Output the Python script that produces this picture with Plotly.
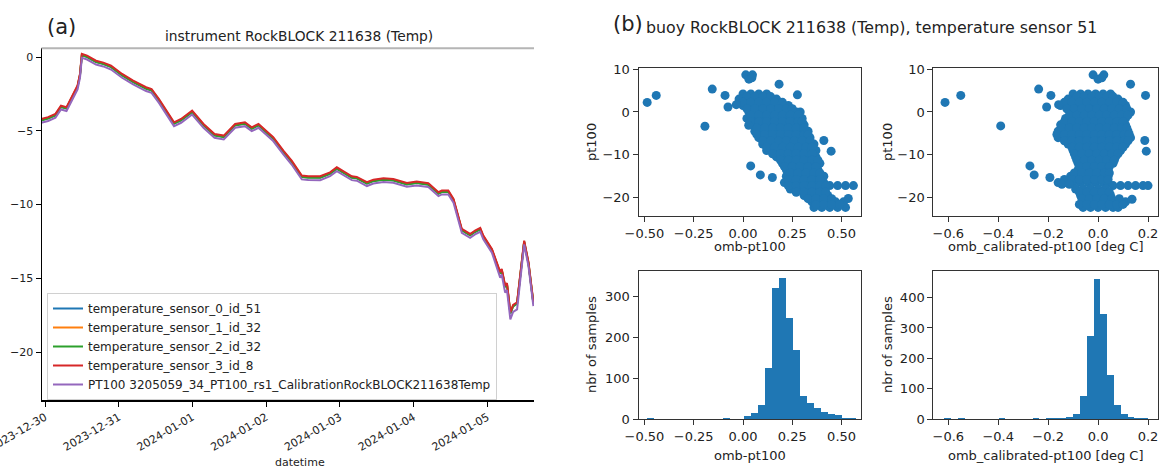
import numpy as np
import pandas as pd
import plotly.graph_objects as go

W, H = 1160, 469

# ---------------- data: panel (a) time series ----------------
start_time = "2023-12-30 00:00"
hours_since_start = [-1.2, 1.0, 3.4, 5.2, 7.0, 8.8, 10.6, 11.4, 12.0, 13.7, 16.6, 19.0, 21.5, 25.1, 28.7,
                     32.9, 34.7, 37.1, 42.0, 44.3, 47.9, 51.6, 55.2, 58.2, 61.9, 65.1, 67.3, 69.5, 74.3,
                     77.6, 80.3, 83.6, 85.7, 89.6, 92.8, 95.0, 97.7, 99.9, 101.5, 104.8, 106.9, 110.2,
                     113.4, 117.8, 121.0, 124.8, 128.1, 129.2, 131.3, 133.0, 135.7, 138.4, 140.0, 141.7,
                     142.7, 145.5, 148.2, 148.7, 149.8, 150.4, 151.5, 152.4, 153.7, 154.7, 156.0, 157.4, 159.0]
sensor_0 = [-4.27, -4.15, -3.93, -3.37, -3.47, -2.69, -2.0, -1.2, 0.14, 0.02, -0.32, -0.45, -0.66, -1.22, -1.67,
            -2.12, -2.24, -2.92, -4.5, -4.27, -3.71, -4.61, -5.29, -5.4, -4.61, -4.5, -4.84, -4.61, -5.51,
            -6.42, -7.1, -8.11, -8.15, -8.16, -7.89, -7.55, -7.89, -8.16, -8.2, -8.56, -8.39, -8.29,
            -8.34, -8.61, -8.52, -8.63, -9.24, -9.13, -9.13, -9.69, -11.73, -12.07, -11.84, -11.66,
            -12.18, -13.08, -14.66, -14.44, -15.57, -15.4, -17.38, -16.88, -16.7, -14.89, -12.52, -13.99, -16.7]
sensor_1 = [-4.24, -4.12, -3.90, -3.34, -3.44, -2.66, -1.97, -1.17, 0.17, 0.05, -0.29, -0.42, -0.63, -1.19, -1.64,
            -2.09, -2.21, -2.89, -4.47, -4.24, -3.68, -4.58, -5.26, -5.37, -4.58, -4.47, -4.81, -4.58, -5.48,
            -6.39, -7.07, -8.08, -8.12, -8.13, -7.86, -7.52, -7.86, -8.13, -8.17, -8.53, -8.36, -8.26,
            -8.31, -8.58, -8.49, -8.60, -9.21, -9.10, -9.10, -9.66, -11.70, -12.04, -11.81, -11.63,
            -12.15, -13.05, -14.63, -14.41, -15.54, -15.37, -17.35, -16.85, -16.67, -14.86, -12.49, -13.96, -16.67]
sensor_2 = [-4.29, -4.17, -3.95, -3.39, -3.49, -2.71, -2.02, -1.22, 0.12, 0.00, -0.34, -0.47, -0.68, -1.24, -1.69,
            -2.14, -2.26, -2.94, -4.52, -4.29, -3.73, -4.63, -5.31, -5.42, -4.63, -4.52, -4.86, -4.63, -5.53,
            -6.44, -7.12, -8.13, -8.17, -8.18, -7.91, -7.57, -7.91, -8.18, -8.22, -8.58, -8.41, -8.31,
            -8.36, -8.63, -8.54, -8.65, -9.26, -9.15, -9.15, -9.71, -11.75, -12.09, -11.86, -11.68,
            -12.20, -13.10, -14.68, -14.46, -15.59, -15.42, -17.40, -16.90, -16.72, -14.91, -12.54, -14.01, -16.72]
sensor_3 = [-4.19, -4.07, -3.85, -3.29, -3.39, -2.61, -1.92, -1.12, 0.22, 0.10, -0.24, -0.37, -0.58, -1.14, -1.59,
            -2.04, -2.16, -2.84, -4.42, -4.19, -3.63, -4.53, -5.21, -5.32, -4.53, -4.42, -4.76, -4.53, -5.43,
            -6.34, -7.02, -8.03, -8.07, -8.08, -7.81, -7.47, -7.81, -8.08, -8.12, -8.48, -8.31, -8.21,
            -8.26, -8.53, -8.44, -8.55, -9.16, -9.05, -9.05, -9.61, -11.65, -11.99, -11.76, -11.58,
            -12.10, -13.00, -14.58, -14.36, -15.49, -15.32, -17.30, -16.80, -16.62, -14.81, -12.44, -13.91, -16.62]
pt100_series = [-4.45, -4.33, -4.11, -3.55, -3.65, -2.87, -2.18, -1.38, -0.04, -0.16, -0.50, -0.63, -0.84, -1.40, -1.85,
                -2.30, -2.42, -3.10, -4.68, -4.45, -3.89, -4.79, -5.47, -5.58, -4.79, -4.68, -5.02, -4.79, -5.69,
                -6.60, -7.28, -8.29, -8.33, -8.34, -8.07, -7.73, -8.07, -8.34, -8.38, -8.74, -8.57, -8.47,
                -8.52, -8.79, -8.70, -8.81, -9.42, -9.31, -9.31, -9.87, -11.91, -12.25, -12.02, -11.84,
                -12.36, -13.26, -14.96, -14.74, -15.97, -15.80, -17.78, -17.28, -17.10, -15.29, -12.70, -14.17, -16.88]
series_names = ["temperature_sensor_0_id_51", "temperature_sensor_1_id_32", "temperature_sensor_2_id_32",
                "temperature_sensor_3_id_8", "PT100 3205059_34_PT100_rs1_CalibrationRockBLOCK211638Temp"]
series_values = [sensor_0, sensor_1, sensor_2, sensor_3, pt100_series]
date_ticks = ["2023-12-30", "2023-12-31", "2024-01-01", "2024-01-02", "2024-01-03", "2024-01-04", "2024-01-05"]

# ---------------- data: scatter omb-pt100 vs pt100 ----------------
s1_row_pt100 = [4.2, 3.0, 1.5, 0.0, -1.5, -3.0, -4.5, -6.0, -7.5, -9.0, -10.5, -12.0, -13.5, -15.0, -16.5,
                -17.2, -18.0, -19.5, -21.0, -22.3,
                3.6, 2.25, 0.75, -0.75, -2.25, -3.75, -5.25, -6.75, -8.25, -9.75, -11.25, -12.75, -14.25,
                -15.75, -17.25, -18.75, -20.25, -21.6]
s1_row_diff = [
    [0.0, 0.04, 0.08, 0.12],
    [-0.02, 0.02, 0.06, 0.10, 0.14, 0.17],
    [0.0, 0.04, 0.08, 0.12, 0.16, 0.20, 0.23],
    [0.03, 0.07, 0.11, 0.15, 0.19, 0.23, 0.27, 0.29],
    [0.02, 0.06, 0.10, 0.14, 0.18, 0.22, 0.26, 0.30],
    [0.05, 0.09, 0.13, 0.17, 0.21, 0.25, 0.29, 0.31],
    [0.06, 0.10, 0.14, 0.18, 0.22, 0.26, 0.30, 0.33],
    [0.08, 0.12, 0.16, 0.20, 0.24, 0.28, 0.32, 0.34],
    [0.10, 0.14, 0.18, 0.22, 0.26, 0.30, 0.34, 0.36],
    [0.12, 0.16, 0.20, 0.24, 0.28, 0.32, 0.36, 0.37],
    [0.17, 0.21, 0.25, 0.29, 0.33, 0.37],
    [0.20, 0.24, 0.28, 0.32, 0.36, 0.39],
    [0.22, 0.26, 0.30, 0.34, 0.38],
    [0.22, 0.26, 0.30, 0.34, 0.38, 0.41],
    [0.21, 0.25, 0.29, 0.33, 0.37, 0.41],
    [0.44, 0.48, 0.52, 0.56],
    [0.24, 0.28, 0.32, 0.36, 0.39],
    [0.31, 0.35, 0.39, 0.43],
    [0.35, 0.39, 0.43, 0.47, 0.51],
    [0.36, 0.40, 0.44, 0.48, 0.52],
    [0.02, 0.06, 0.10, 0.14],
    [0.0, 0.04, 0.08, 0.12, 0.16, 0.20],
    [0.02, 0.06, 0.10, 0.14, 0.18, 0.22, 0.25],
    [0.04, 0.08, 0.12, 0.16, 0.20, 0.24, 0.28],
    [0.04, 0.08, 0.12, 0.16, 0.20, 0.24, 0.28, 0.30],
    [0.07, 0.11, 0.15, 0.19, 0.23, 0.27, 0.31],
    [0.07, 0.11, 0.15, 0.19, 0.23, 0.27, 0.31, 0.33],
    [0.10, 0.14, 0.18, 0.22, 0.26, 0.30, 0.34],
    [0.12, 0.16, 0.20, 0.24, 0.28, 0.32, 0.35],
    [0.15, 0.19, 0.23, 0.27, 0.31, 0.35],
    [0.19, 0.23, 0.27, 0.31, 0.35, 0.38],
    [0.21, 0.25, 0.29, 0.33, 0.37],
    [0.24, 0.28, 0.32, 0.36, 0.39],
    [0.23, 0.27, 0.31, 0.35, 0.39],
    [0.23, 0.27, 0.31, 0.35, 0.39, 0.42],
    [0.27, 0.31, 0.35, 0.39, 0.42],
    [0.33, 0.37, 0.41, 0.45],
    [0.37, 0.41, 0.45, 0.49],
]
s1_out_pt100 = [2.24, 3.87, -3.34, 5.35, 3.87, 1.16, 1.7, 8.67, 8.67, 7.67, 8.0, 6.5, 4.0, -3.1, -12.6,
                -14.7, -15.3, -6.67, -9.16, -20.2]
s1_out_diff = [-0.486, -0.44, -0.193, -0.156, -0.091, -0.076, -0.034, 0.014, 0.048, 0.03, 0.045, 0.183,
               0.276, 0.029, 0.039, 0.088, 0.149, 0.41, 0.447, 0.534]

# ---------------- data: scatter omb_calibrated-pt100 vs pt100 ----------------
s2_row_pt100 = [4.2, 3.0, 1.5, 0.0, -1.5, -3.0, -4.5, -6.0, -7.5, -9.0, -10.5, -12.0, -13.5, -15.0, -16.5,
                -17.2, -18.0, -19.5, -21.0, -22.3,
                3.6, 2.25, 0.75, -0.75, -2.25, -3.75, -5.25, -6.75, -8.25, -9.75, -11.25, -12.75, -14.25,
                -15.75, -16.9, -18.75, -20.25, -21.6]
s2_row_diff = [
    [-0.10, -0.07, -0.04, -0.01, 0.02, 0.05],
    [-0.12, -0.09, -0.06, -0.03, 0.0, 0.03, 0.06, 0.08],
    [-0.15, -0.12, -0.09, -0.06, -0.03, 0.0, 0.03, 0.06, 0.09, 0.11],
    [-0.11, -0.08, -0.05, -0.02, 0.01, 0.04, 0.07, 0.10, 0.13],
    [-0.13, -0.10, -0.07, -0.04, -0.01, 0.02, 0.05, 0.08, 0.11],
    [-0.15, -0.12, -0.09, -0.06, -0.03, 0.0, 0.03, 0.06, 0.09, 0.11],
    [-0.16, -0.13, -0.10, -0.07, -0.04, -0.01, 0.02, 0.05, 0.08, 0.11, 0.12],
    [-0.16, -0.13, -0.10, -0.07, -0.04, -0.01, 0.02, 0.05, 0.08, 0.11, 0.13],
    [-0.12, -0.09, -0.06, -0.03, 0.0, 0.03, 0.06, 0.09, 0.11],
    [-0.10, -0.07, -0.04, -0.01, 0.02, 0.05, 0.08, 0.09],
    [-0.09, -0.06, -0.03, 0.0, 0.03, 0.06, 0.07],
    [-0.08, -0.05, -0.02, 0.01, 0.04, 0.06],
    [-0.08, -0.05, -0.02, 0.01, 0.04],
    [-0.11, -0.08, -0.05, -0.02, 0.01, 0.04],
    [-0.16, -0.13, -0.10, -0.07, -0.04, -0.01, 0.02, 0.04],
    [0.06, 0.09, 0.12, 0.15, 0.18, 0.20],
    [-0.09, -0.06, -0.03, 0.0, 0.03],
    [-0.07, -0.04, -0.01, 0.02, 0.05],
    [-0.06, -0.03, 0.0, 0.03, 0.06, 0.09, 0.11],
    [-0.06, -0.03, 0.0, 0.03, 0.06, 0.08],
    [-0.085, -0.055, -0.025, 0.005, 0.035, 0.06],
    [-0.135, -0.105, -0.075, -0.045, -0.015, 0.015, 0.045, 0.075, 0.10],
    [-0.125, -0.095, -0.065, -0.035, -0.005, 0.025, 0.055, 0.085, 0.115],
    [-0.115, -0.085, -0.055, -0.025, 0.005, 0.035, 0.065, 0.095, 0.12],
    [-0.135, -0.105, -0.075, -0.045, -0.015, 0.015, 0.045, 0.075, 0.10],
    [-0.145, -0.115, -0.085, -0.055, -0.025, 0.005, 0.035, 0.065, 0.095, 0.115],
    [-0.165, -0.135, -0.105, -0.075, -0.045, -0.015, 0.015, 0.045, 0.075, 0.105, 0.125],
    [-0.135, -0.105, -0.075, -0.045, -0.015, 0.015, 0.045, 0.075, 0.105, 0.12],
    [-0.105, -0.075, -0.045, -0.015, 0.015, 0.045, 0.075, 0.10],
    [-0.095, -0.065, -0.035, -0.005, 0.025, 0.055, 0.08],
    [-0.085, -0.055, -0.025, 0.005, 0.035, 0.065],
    [-0.075, -0.045, -0.015, 0.015, 0.045],
    [-0.095, -0.065, -0.035, -0.005, 0.025, 0.045],
    [-0.135, -0.105, -0.075, -0.045, -0.015, 0.015, 0.04],
    [-0.145, -0.115],
    [-0.075, -0.045, -0.015, 0.015, 0.045],
    [-0.065, -0.035, -0.005, 0.025, 0.055, 0.085],
    [-0.075, -0.045, -0.015, 0.015, 0.045, 0.075, 0.10],
]
s2_out_pt100 = [2.24, 3.87, -3.26, 5.35, 3.87, 1.16, 1.7, 8.67, 8.67, 7.67, 8.0, 6.5, 3.87, -12.6, -14.7,
                -15.3, -6.67, -9.16, -20.4]
s2_out_diff = [-0.613, -0.55, -0.39, -0.238, -0.189, -0.206, -0.158, -0.02, 0.023, 0.0, 0.015, 0.13, 0.19,
               -0.273, -0.256, -0.193, 0.187, 0.193, 0.136]

# ---------------- data: histograms (30 bins) ----------------
h1_min, h1_max = -0.49, 0.569
h1_counts = [2, 1, 0, 0, 0, 0, 0, 0, 1, 1, 0, 4, 1, 1, 8, 15, 35, 125, 322, 347,
             247, 170, 57, 41, 29, 19, 13, 12, 5, 2]
h2_min, h2_max = -0.615, 0.201
h2_counts = [2, 0, 2, 0, 0, 0, 0, 0, 2, 0, 0, 0, 0, 2, 1, 3, 4, 5, 9, 20,
             77, 273, 462, 347, 147, 47, 17, 8, 2, 5]

# ---------------- figure ----------------
FONT = "DejaVu Sans"
TXT = "#222222"
BLUE = "#1f77b4"
colors = ["#1f77b4", "#ff7f0e", "#2ca02c", "#d62728", "#9467bd"]


def px_x(p):
    return p / W


def px_y(p):
    return 1 - p / H


t0 = pd.Timestamp(start_time)
times = [t0 + pd.Timedelta(hours=h) for h in hours_since_start]

fig = go.Figure()
for name, vals, c in zip(series_names, series_values, colors):
    fig.add_trace(go.Scatter(x=times, y=vals, mode="lines", name=name,
                             line=dict(color=c, width=2), xaxis="x", yaxis="y"))


def expand(row_y, row_x):
    xs, ys = [], []
    for yv, row in zip(row_y, row_x):
        for xv in row:
            xs.append(xv)
            ys.append(yv)
    return xs, ys


s1x, s1y = expand(s1_row_pt100, s1_row_diff)
s2x, s2y = expand(s2_row_pt100, s2_row_diff)
mk = dict(color=BLUE, size=9, line=dict(width=0))
fig.add_trace(go.Scatter(x=s1x + s1_out_diff, y=s1y + s1_out_pt100, mode="markers", marker=mk,
                         showlegend=False, xaxis="x2", yaxis="y2"))
fig.add_trace(go.Scatter(x=s2x + s2_out_diff, y=s2y + s2_out_pt100, mode="markers", marker=mk,
                         showlegend=False, xaxis="x3", yaxis="y3"))

e1 = np.linspace(h1_min, h1_max, len(h1_counts) + 1)
e2 = np.linspace(h2_min, h2_max, len(h2_counts) + 1)
fig.add_trace(go.Bar(x=(e1[:-1] + e1[1:]) / 2, y=h1_counts, width=np.diff(e1),
                     marker=dict(color=BLUE, line=dict(width=0)),
                     showlegend=False, xaxis="x4", yaxis="y4"))
fig.add_trace(go.Bar(x=(e2[:-1] + e2[1:]) / 2, y=h2_counts, width=np.diff(e2),
                     marker=dict(color=BLUE, line=dict(width=0)),
                     showlegend=False, xaxis="x5", yaxis="y5"))

tickfont_l = dict(family=FONT, size=11, color=TXT)
tickfont_r = dict(family=FONT, size=13, color=TXT)

left_dom_x = [px_x(41.5), px_x(534)]
left_dom_y = [px_y(400), px_y(48.3)]
s1_dom_x = [px_x(638.5), px_x(860.7)]
s2_dom_x = [px_x(933.3), px_x(1158)]
top_dom_y = [px_y(216), px_y(68.3)]
bot_dom_y = [px_y(419.3), px_y(270.7)]

frame = dict(showline=True, linecolor="#333333", linewidth=1, mirror=True, ticks="outside", ticklen=5,
             tickcolor="#333333", showgrid=False, zeroline=False, tickfont=tickfont_r, automargin=False)

fig.update_layout(
    width=W, height=H, margin=dict(l=0, r=0, t=0, b=0, autoexpand=False),
    paper_bgcolor="white", plot_bgcolor="white", bargap=0,
    font=dict(family=FONT, color=TXT),
    xaxis=dict(domain=left_dom_x, anchor="y", type="date", automargin=False, ticklabeloverflow="allow",
               range=[t0 + pd.Timedelta(hours=-1.14), t0 + pd.Timedelta(hours=159.2)],
               tickvals=date_ticks, ticktext=date_ticks, tickangle=-30,
               showline=True, linecolor="black", linewidth=1.5, ticks="outside", ticklen=5,
               tickcolor="black", showgrid=False, zeroline=False, tickfont=tickfont_l),
    yaxis=dict(domain=left_dom_y, anchor="x", range=[-23.25, 0.6], tickvals=[0, -5, -10, -15, -20],
               automargin=False,
               showline=True, linecolor="black", linewidth=1, ticks="outside", ticklen=5,
               tickcolor="black", showgrid=False, zeroline=False, tickfont=tickfont_l),
    xaxis2=dict(domain=s1_dom_x, anchor="y2", range=[-0.53, 0.597], tickvals=[-0.5, -0.25, 0, 0.25, 0.5],
                tickformat=".2f", **frame),
    yaxis2=dict(domain=top_dom_y, anchor="x2", range=[-24.3, 10.2], tickvals=[10, 0, -10, -20], **frame),
    xaxis3=dict(domain=s2_dom_x, anchor="y3", range=[-0.66, 0.24], tickvals=[-0.6, -0.4, -0.2, 0, 0.2],
                tickformat=".1f", **frame),
    yaxis3=dict(domain=top_dom_y, anchor="x3", range=[-24.3, 10.2], tickvals=[10, 0, -10, -20], **frame),
    xaxis4=dict(domain=s1_dom_x, anchor="y4", range=[-0.53, 0.597], tickvals=[-0.5, -0.25, 0, 0.25, 0.5],
                tickformat=".2f", **frame),
    yaxis4=dict(domain=bot_dom_y, anchor="x4", range=[0, 363], tickvals=[0, 100, 200, 300], **frame),
    xaxis5=dict(domain=s2_dom_x, anchor="y5", range=[-0.66, 0.24], tickvals=[-0.6, -0.4, -0.2, 0, 0.2],
                tickformat=".1f", **frame),
    yaxis5=dict(domain=bot_dom_y, anchor="x5", range=[0, 488], tickvals=[0, 100, 200, 300, 400], **frame),
    legend=dict(x=px_x(47), y=px_y(293), xanchor="left", yanchor="top",
                bgcolor="rgba(255,255,255,0.85)", bordercolor="#d0d0d0", borderwidth=1,
                font=dict(family=FONT, size=12, color=TXT), traceorder="normal"),
    shapes=[dict(type="line", xref="x domain", yref="y domain", x0=0, x1=1, y0=1, y1=1,
                 line=dict(color="#b5b5b5", width=2))],
)


def ann(text, x, y, size, angle=0):
    fig.add_annotation(text=text, x=px_x(x), y=px_y(y), xref="paper", yref="paper", showarrow=False,
                       xanchor="center", yanchor="middle", textangle=angle,
                       font=dict(family=FONT, size=size, color=TXT))


ann("(a)", 61, 27, 21)
ann("(b)", 628, 24, 21)
ann("instrument RockBLOCK 211638 (Temp)", 299, 36, 13.8)
ann("buoy RockBLOCK 211638 (Temp), temperature sensor 51", 871, 28, 15.8)
ann("datetime", 300, 462, 11)
ann("pt100", 591, 142, 13, -90)
ann("pt100", 887, 142, 13, -90)
ann("nbr of samples", 591, 345, 13, -90)
ann("nbr of samples", 887, 345, 13, -90)
ann("omb-pt100", 749.6, 247, 13)
ann("omb_calibrated-pt100 [deg C]", 1045.7, 247, 13)
ann("omb-pt100", 749.6, 455, 13)
ann("omb_calibrated-pt100 [deg C]", 1045.7, 455, 13)

fig.write_html("out.html")
